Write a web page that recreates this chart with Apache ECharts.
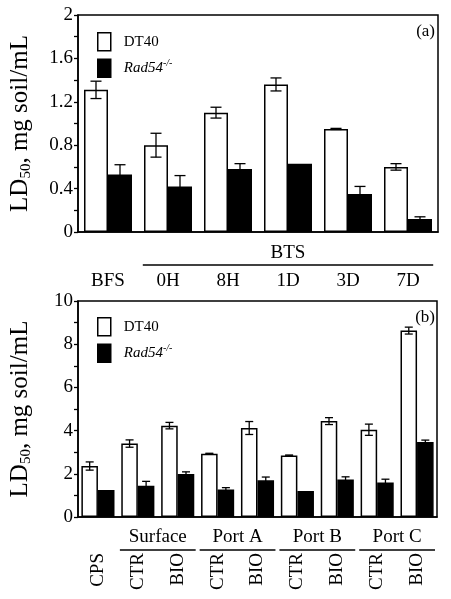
<!DOCTYPE html>
<html><head><meta charset="utf-8">
<script src="https://cdn.jsdelivr.net/npm/echarts@6/dist/echarts.min.js"></script>
<style>html,body{margin:0;padding:0;background:#fff}#c{width:451px;height:599px}</style>
</head><body><div id="c"></div>
<script>
// Panel (a)
var catsA = ['BFS','0H','8H','1D','3D','7D'];
var dt40A = [1.31, 0.80, 1.10, 1.36, 0.95, 0.60];
var dt40ErrA = [0.08, 0.11, 0.05, 0.06, 0.005, 0.03];
var radA = [0.53, 0.42, 0.58, 0.63, 0.35, 0.12];
var radErrA = [0.09, 0.10, 0.05, 0, 0.07, 0.02];
var yTicksA = [0, 0.4, 0.8, 1.2, 1.6, 2];
// Panel (b)
var catsB = ['CPS','CTR ','BIO ','CTR  ','BIO  ','CTR   ','BIO   ','CTR    ','BIO    '];
var dt40B = [2.36, 3.40, 4.23, 2.93, 4.12, 2.85, 4.44, 4.04, 8.63];
var dt40ErrB = [0.19, 0.17, 0.15, 0.02, 0.30, 0.02, 0.16, 0.26, 0.16];
var radB = [1.25, 1.45, 1.99, 1.27, 1.70, 1.20, 1.74, 1.60, 3.47];
var radErrB = [0, 0.20, 0.10, 0.09, 0.15, 0, 0.12, 0.15, 0.09];
var yTicksB = [0, 2, 4, 6, 8, 10];
var groupsB = [['Surface',1,2],['Port A',3,4],['Port B',5,6],['Port C',7,8]];
var groupA = ['BTS',1,5];

var FONT = '"Liberation Serif","DejaVu Serif",serif';
var chart = echarts.init(document.getElementById('c'), null, {renderer:'canvas'});

function errSeries(grid, vals, errs, side, gapFrac, capW) {
  return {
    type:'custom', xAxisIndex:grid, yAxisIndex:grid, z:10, silent:true,
    data: vals.map(function(v,i){return [i, v, errs[i]];}),
    renderItem: function(params, api){
      var i = api.value(0), v = api.value(1), e = api.value(2);
      if (!e) return null;
      var band = api.size([1,0])[0];
      var bw = band*(1-gapFrac)/2;
      var c = api.coord([i, v]);
      var x = c[0] + side*bw/2;
      var yt = api.coord([i, v+e])[1], yb = api.coord([i, v-e])[1];
      var st = {stroke:'#000', lineWidth:1.3};
      return {type:'group', children:[
        {type:'line', shape:{x1:x,y1:yt,x2:x,y2:yb}, style:st},
        {type:'line', shape:{x1:x-capW/2,y1:yt,x2:x+capW/2,y2:yt}, style:st},
        {type:'line', shape:{x1:x-capW/2,y1:yb,x2:x+capW/2,y2:yb}, style:st}
      ]};
    }
  };
}

function yAxis(grid, ticks, minorSplit){
  return {
    type:'value', gridIndex:grid, min:ticks[0], max:ticks[ticks.length-1],
    interval: ticks[1]-ticks[0],
    axisLine:{show:true, lineStyle:{color:'#000', width:1.5}},
    axisTick:{show:true, length:4, lineStyle:{color:'#000', width:1.3}},
    minorTick:{show:true, splitNumber:2, length:4, lineStyle:{color:'#000', width:1.3}},
    splitLine:{show:false},
    axisLabel:{color:'#000', fontFamily:FONT, fontSize:19, margin:5},
    name:'{a|LD}{b|50}{a|, mg soil/mL}', nameLocation:'middle', nameRotate:90, nameGap:44,
    nameTextStyle:{rich:{
      a:{fontFamily:FONT, fontSize:25, color:'#000'},
      b:{fontFamily:FONT, fontSize:15, color:'#000', padding:[12,0,0,0]}
    }}
  };
}

function legend(top){
  return {
    orient:'vertical', left:92, top:top, itemWidth:13, itemHeight:18, itemGap:7,
    selectedMode:false,
    textStyle:{fontFamily:FONT, fontSize:15, color:'#000', padding:[0,0,0,8],
      rich:{i:{fontFamily:FONT, fontSize:15, fontStyle:'italic', color:'#000'},
            s:{fontFamily:FONT, fontSize:10, fontStyle:'italic', color:'#000', padding:[0,0,9,0]}}},
    formatter:function(n){ return n==='DT40' ? 'DT40' : '{i|Rad54}{s|-/-}'; },
    data:[
      {name:'DT40', icon:'rect', itemStyle:{color:'#fff', borderColor:'#000', borderWidth:1.5}},
      {name:'Rad54', icon:'rect', itemStyle:{color:'#000', borderColor:'#000', borderWidth:1.5}}
    ]
  };
}

var gapA = 0.2, gapB = 0.17;
var option = {
  animation:false,
  backgroundColor:'#fff',
  grid:[
    {left:76, top:15, right:13, height:217, show:true, borderColor:'#000', borderWidth:1.5},
    {left:76, top:301, right:14, height:216, show:true, borderColor:'#000', borderWidth:1.5}
  ],
  legend:[legend(27), legend(312)],
  xAxis:[
    {type:'category', gridIndex:0, data:catsA,
     axisLine:{lineStyle:{color:'#000', width:1.5}}, axisTick:{show:false},
     axisLabel:{color:'#000', fontFamily:FONT, fontSize:19, margin:40, interval:0}},
    {type:'category', gridIndex:1, data:catsB,
     axisLine:{lineStyle:{color:'#000', width:1.5}}, axisTick:{show:false},
     axisLabel:{color:'#000', fontFamily:FONT, fontSize:19, margin:36, rotate:90, interval:0,
       formatter:function(v){return v.trim();}}}
  ],
  yAxis:[yAxis(0, yTicksA), yAxis(1, yTicksB)],
  series:[
    {name:'DT40', type:'bar', xAxisIndex:0, yAxisIndex:0, data:dt40A, barGap:'0%', barCategoryGap:(gapA*100)+'%',
     itemStyle:{color:'#fff', borderColor:'#000', borderWidth:1.5}},
    {name:'Rad54', type:'bar', xAxisIndex:0, yAxisIndex:0, data:radA, barGap:'0%', barCategoryGap:(gapA*100)+'%',
     itemStyle:{color:'#000', borderColor:'#000', borderWidth:1.5}},
    errSeries(0, dt40A, dt40ErrA, -1, gapA, 11),
    errSeries(0, radA, radErrA, 1, gapA, 11),
    {name:'DT40', type:'bar', xAxisIndex:1, yAxisIndex:1, data:dt40B, barGap:'0%', barCategoryGap:(gapB*100)+'%',
     itemStyle:{color:'#fff', borderColor:'#000', borderWidth:1.5}},
    {name:'Rad54', type:'bar', xAxisIndex:1, yAxisIndex:1, data:radB, barGap:'0%', barCategoryGap:(gapB*100)+'%',
     itemStyle:{color:'#000', borderColor:'#000', borderWidth:1.5}},
    errSeries(1, dt40B, dt40ErrB, -1, gapB, 8),
    errSeries(1, radB, radErrB, 1, gapB, 8)
  ]
};
chart.setOption(option);

// annotations: group brackets and panel tags, positioned through the axes
var g = [];
function bracket(axisIdx, label, i0, i1, cats, textDy, lineDy, inset){
  var xa = chart.convertToPixel({xAxisIndex:axisIdx}, cats[i0]);
  var xb = chart.convertToPixel({xAxisIndex:axisIdx}, cats[i1]);
  var band = chart.convertToPixel({xAxisIndex:axisIdx}, cats[1]) - chart.convertToPixel({xAxisIndex:axisIdx}, cats[0]);
  var y0 = chart.convertToPixel({yAxisIndex:axisIdx}, 0);
  g.push({type:'line', shape:{x1:xa-band*inset, y1:y0+lineDy, x2:xb+band*inset, y2:y0+lineDy},
          style:{stroke:'#000', lineWidth:1.5}});
  g.push({type:'text', x:(xa+xb)/2, y:y0+textDy, style:{text:label, fill:'#000', font:'19px '+FONT,
          textAlign:'center', textVerticalAlign:'middle'}});
}
bracket(0, groupA[0], groupA[1], groupA[2], catsA, 21, 33, 0.42);
groupsB.forEach(function(gr){ bracket(1, gr[0], gr[1], gr[2], catsB, 20, 33, 0.45); });
var xr = chart.convertToPixel({xAxisIndex:0}, catsA[catsA.length-1]);
var yTopA = chart.convertToPixel({yAxisIndex:0}, yTicksA[yTicksA.length-1]);
var yTopB = chart.convertToPixel({yAxisIndex:1}, yTicksB[yTicksB.length-1]);
g.push({type:'text', right:16, top:yTopA+8, style:{text:'(a)', fill:'#000', font:'17px '+FONT}});
g.push({type:'text', right:16, top:yTopB+8, style:{text:'(b)', fill:'#000', font:'17px '+FONT}});
chart.setOption({graphic:g});
</script></body></html>
